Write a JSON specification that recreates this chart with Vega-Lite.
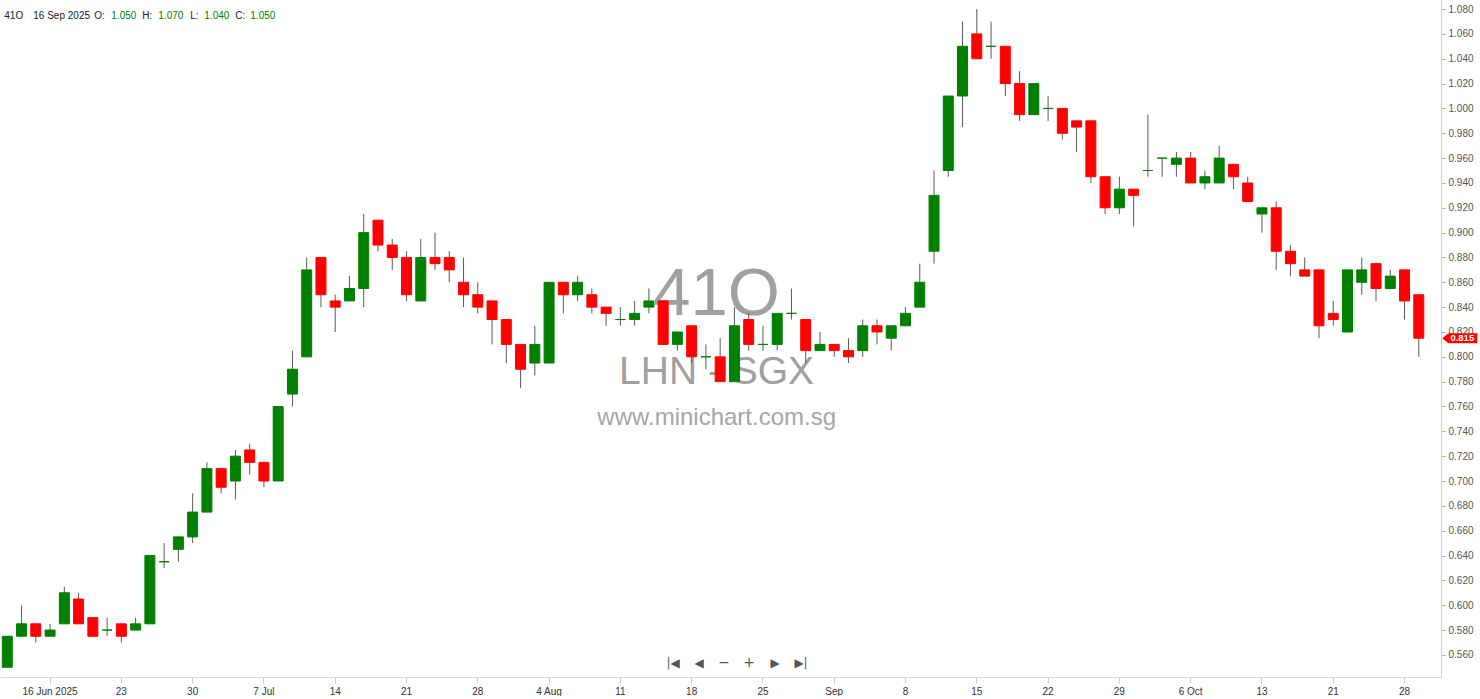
{
  "$schema": "https://vega.github.io/schema/vega-lite/v6.json",
  "width": 1441,
  "height": 677,
  "padding": 0,
  "autosize": {"type": "pad"},
  "background": "white",
  "config": {
    "view": {"stroke": null},
    "font": "Liberation Sans",
    "axis": {"labelOverlap": false},
    "axisY": {"labelOverlap": false, "labelSeparation": 0},
    "axisQuantitative": {"labelOverlap": false}
  },
  "datasets": {
    "ohlc": [
      {"d":"2025-06-11","o":0.550,"h":0.575,"l":0.550,"c":0.575},
      {"d":"2025-06-12","o":0.575,"h":0.600,"l":0.575,"c":0.585},
      {"d":"2025-06-13","o":0.585,"h":0.585,"l":0.570,"c":0.575},
      {"d":"2025-06-16","o":0.575,"h":0.585,"l":0.575,"c":0.580},
      {"d":"2025-06-17","o":0.585,"h":0.615,"l":0.585,"c":0.610},
      {"d":"2025-06-18","o":0.605,"h":0.610,"l":0.585,"c":0.585},
      {"d":"2025-06-19","o":0.590,"h":0.590,"l":0.575,"c":0.575},
      {"d":"2025-06-20","o":0.580,"h":0.590,"l":0.575,"c":0.580},
      {"d":"2025-06-23","o":0.585,"h":0.585,"l":0.570,"c":0.575},
      {"d":"2025-06-24","o":0.580,"h":0.590,"l":0.580,"c":0.585},
      {"d":"2025-06-25","o":0.585,"h":0.640,"l":0.585,"c":0.640},
      {"d":"2025-06-26","o":0.635,"h":0.650,"l":0.630,"c":0.635},
      {"d":"2025-06-27","o":0.645,"h":0.655,"l":0.635,"c":0.655},
      {"d":"2025-06-30","o":0.655,"h":0.690,"l":0.650,"c":0.675},
      {"d":"2025-07-01","o":0.675,"h":0.715,"l":0.675,"c":0.710},
      {"d":"2025-07-02","o":0.710,"h":0.710,"l":0.690,"c":0.695},
      {"d":"2025-07-03","o":0.700,"h":0.725,"l":0.685,"c":0.720},
      {"d":"2025-07-04","o":0.725,"h":0.730,"l":0.705,"c":0.715},
      {"d":"2025-07-07","o":0.715,"h":0.715,"l":0.695,"c":0.700},
      {"d":"2025-07-08","o":0.700,"h":0.760,"l":0.700,"c":0.760},
      {"d":"2025-07-09","o":0.770,"h":0.805,"l":0.760,"c":0.790},
      {"d":"2025-07-10","o":0.800,"h":0.880,"l":0.800,"c":0.870},
      {"d":"2025-07-11","o":0.880,"h":0.880,"l":0.840,"c":0.850},
      {"d":"2025-07-14","o":0.845,"h":0.850,"l":0.820,"c":0.840},
      {"d":"2025-07-15","o":0.845,"h":0.865,"l":0.845,"c":0.855},
      {"d":"2025-07-16","o":0.855,"h":0.915,"l":0.840,"c":0.900},
      {"d":"2025-07-17","o":0.910,"h":0.910,"l":0.885,"c":0.890},
      {"d":"2025-07-18","o":0.890,"h":0.895,"l":0.870,"c":0.880},
      {"d":"2025-07-21","o":0.880,"h":0.885,"l":0.845,"c":0.850},
      {"d":"2025-07-22","o":0.845,"h":0.895,"l":0.845,"c":0.880},
      {"d":"2025-07-23","o":0.880,"h":0.900,"l":0.870,"c":0.875},
      {"d":"2025-07-24","o":0.880,"h":0.885,"l":0.860,"c":0.870},
      {"d":"2025-07-25","o":0.860,"h":0.880,"l":0.840,"c":0.850},
      {"d":"2025-07-28","o":0.850,"h":0.860,"l":0.835,"c":0.840},
      {"d":"2025-07-29","o":0.845,"h":0.845,"l":0.810,"c":0.830},
      {"d":"2025-07-30","o":0.830,"h":0.830,"l":0.795,"c":0.810},
      {"d":"2025-07-31","o":0.810,"h":0.810,"l":0.775,"c":0.790},
      {"d":"2025-08-01","o":0.795,"h":0.825,"l":0.785,"c":0.810},
      {"d":"2025-08-04","o":0.795,"h":0.860,"l":0.795,"c":0.860},
      {"d":"2025-08-05","o":0.860,"h":0.860,"l":0.835,"c":0.850},
      {"d":"2025-08-06","o":0.850,"h":0.865,"l":0.845,"c":0.860},
      {"d":"2025-08-07","o":0.850,"h":0.855,"l":0.835,"c":0.840},
      {"d":"2025-08-08","o":0.840,"h":0.840,"l":0.825,"c":0.835},
      {"d":"2025-08-11","o":0.830,"h":0.840,"l":0.825,"c":0.830},
      {"d":"2025-08-12","o":0.830,"h":0.845,"l":0.825,"c":0.835},
      {"d":"2025-08-13","o":0.840,"h":0.855,"l":0.835,"c":0.845},
      {"d":"2025-08-14","o":0.845,"h":0.845,"l":0.810,"c":0.810},
      {"d":"2025-08-15","o":0.810,"h":0.820,"l":0.805,"c":0.820},
      {"d":"2025-08-18","o":0.825,"h":0.825,"l":0.795,"c":0.800},
      {"d":"2025-08-19","o":0.800,"h":0.810,"l":0.790,"c":0.800},
      {"d":"2025-08-20","o":0.800,"h":0.815,"l":0.780,"c":0.780},
      {"d":"2025-08-21","o":0.780,"h":0.840,"l":0.780,"c":0.825},
      {"d":"2025-08-22","o":0.830,"h":0.835,"l":0.805,"c":0.810},
      {"d":"2025-08-25","o":0.810,"h":0.825,"l":0.805,"c":0.810},
      {"d":"2025-08-26","o":0.810,"h":0.835,"l":0.805,"c":0.835},
      {"d":"2025-08-27","o":0.835,"h":0.855,"l":0.830,"c":0.835},
      {"d":"2025-08-28","o":0.830,"h":0.830,"l":0.795,"c":0.805},
      {"d":"2025-08-29","o":0.805,"h":0.820,"l":0.805,"c":0.810},
      {"d":"2025-09-01","o":0.810,"h":0.810,"l":0.800,"c":0.805},
      {"d":"2025-09-02","o":0.805,"h":0.815,"l":0.795,"c":0.800},
      {"d":"2025-09-03","o":0.805,"h":0.830,"l":0.800,"c":0.825},
      {"d":"2025-09-04","o":0.825,"h":0.830,"l":0.810,"c":0.820},
      {"d":"2025-09-05","o":0.815,"h":0.825,"l":0.805,"c":0.825},
      {"d":"2025-09-08","o":0.825,"h":0.840,"l":0.825,"c":0.835},
      {"d":"2025-09-09","o":0.840,"h":0.875,"l":0.840,"c":0.860},
      {"d":"2025-09-10","o":0.885,"h":0.950,"l":0.875,"c":0.930},
      {"d":"2025-09-11","o":0.950,"h":1.010,"l":0.945,"c":1.010},
      {"d":"2025-09-12","o":1.010,"h":1.070,"l":0.985,"c":1.050},
      {"d":"2025-09-15","o":1.060,"h":1.080,"l":1.040,"c":1.040},
      {"d":"2025-09-16","o":1.050,"h":1.070,"l":1.040,"c":1.050},
      {"d":"2025-09-17","o":1.050,"h":1.050,"l":1.010,"c":1.020},
      {"d":"2025-09-18","o":1.020,"h":1.030,"l":0.990,"c":0.995},
      {"d":"2025-09-19","o":0.995,"h":1.020,"l":0.995,"c":1.020},
      {"d":"2025-09-22","o":1.000,"h":1.010,"l":0.990,"c":1.000},
      {"d":"2025-09-23","o":1.000,"h":1.000,"l":0.975,"c":0.980},
      {"d":"2025-09-24","o":0.990,"h":0.990,"l":0.965,"c":0.985},
      {"d":"2025-09-25","o":0.990,"h":0.990,"l":0.940,"c":0.945},
      {"d":"2025-09-26","o":0.945,"h":0.945,"l":0.915,"c":0.920},
      {"d":"2025-09-29","o":0.920,"h":0.945,"l":0.915,"c":0.935},
      {"d":"2025-09-30","o":0.935,"h":0.935,"l":0.905,"c":0.930},
      {"d":"2025-10-01","o":0.950,"h":0.995,"l":0.945,"c":0.950},
      {"d":"2025-10-02","o":0.960,"h":0.960,"l":0.945,"c":0.960},
      {"d":"2025-10-03","o":0.955,"h":0.965,"l":0.945,"c":0.960},
      {"d":"2025-10-06","o":0.960,"h":0.965,"l":0.940,"c":0.940},
      {"d":"2025-10-07","o":0.940,"h":0.950,"l":0.935,"c":0.945},
      {"d":"2025-10-08","o":0.940,"h":0.970,"l":0.940,"c":0.960},
      {"d":"2025-10-09","o":0.955,"h":0.955,"l":0.935,"c":0.945},
      {"d":"2025-10-10","o":0.940,"h":0.945,"l":0.925,"c":0.925},
      {"d":"2025-10-13","o":0.915,"h":0.920,"l":0.900,"c":0.920},
      {"d":"2025-10-14","o":0.920,"h":0.925,"l":0.870,"c":0.885},
      {"d":"2025-10-15","o":0.885,"h":0.890,"l":0.865,"c":0.875},
      {"d":"2025-10-16","o":0.870,"h":0.880,"l":0.865,"c":0.865},
      {"d":"2025-10-17","o":0.870,"h":0.870,"l":0.815,"c":0.825},
      {"d":"2025-10-21","o":0.835,"h":0.845,"l":0.825,"c":0.830},
      {"d":"2025-10-22","o":0.820,"h":0.870,"l":0.820,"c":0.870},
      {"d":"2025-10-23","o":0.860,"h":0.880,"l":0.850,"c":0.870},
      {"d":"2025-10-24","o":0.875,"h":0.875,"l":0.845,"c":0.855},
      {"d":"2025-10-27","o":0.855,"h":0.870,"l":0.855,"c":0.865},
      {"d":"2025-10-28","o":0.870,"h":0.870,"l":0.830,"c":0.845},
      {"d":"2025-10-29","o":0.850,"h":0.850,"l":0.800,"c":0.815}
    ]
  },
  "data": {"name": "ohlc"},
  "encoding": {
    "x": {
      "field": "d",
      "type": "ordinal",
      "title": null,
      "scale": {"type": "band", "paddingInner": 0.3, "paddingOuter": 0.685, "align": 0.118, "round": false},
      "axis": {
        "values": ["2025-06-16","2025-06-23","2025-06-30","2025-07-07","2025-07-14","2025-07-21","2025-07-28","2025-08-04","2025-08-11","2025-08-18","2025-08-25","2025-09-01","2025-09-08","2025-09-15","2025-09-22","2025-09-29","2025-10-06","2025-10-13","2025-10-21","2025-10-28"],
        "labelExpr": "datum.value == '2025-06-16' ? '16 Jun 2025' : (utcdate(toDate(datum.value)) == 1 ? utcFormat(toDate(datum.value), '%b') : (utcdate(toDate(datum.value)) <= 7 ? utcFormat(toDate(datum.value), '%-d %b') : utcFormat(toDate(datum.value), '%-d')))",
        "labelAngle": 0,
        "labelOverlap": false,
        "labelFlush": false,
        "labelColor": "#333333",
        "labelFontSize": 10,
        "labelFont": "Liberation Sans",
        "labelPadding": 3,
        "tickSize": 6,
        "tickColor": "#c8c8c8",
        "domainColor": "#d8d8d8",
        "grid": false
      }
    },
    "y": {
      "field": "l", "type": "quantitative", "title": null,
      "scale": {"domain": [0.5422, 1.0873], "nice": false, "zero": false},
      "axis": {
        "orient": "right",
        "values": [0.56,0.58,0.60,0.62,0.64,0.66,0.68,0.70,0.72,0.74,0.76,0.78,0.80,0.82,0.84,0.86,0.88,0.90,0.92,0.94,0.96,0.98,1.00,1.02,1.04,1.06,1.08],
        "format": ".3f",
        "labelOverlap": false,
        "labelFlush": false,
        "labelColor": "#555555",
        "labelFontSize": 10,
        "labelFont": "Liberation Sans",
        "labelPadding": 3,
        "tickSize": 4,
        "tickColor": "#b0b0b0",
        "domainColor": "#d0d0d0",
        "grid": false
      }
    }
  },
  "layer": [
    {
      "transform": [{"filter": "datum.d == '2025-08-20'"}],
      "layer": [
        {
          "mark": {"type": "text", "align": "center", "baseline": "alphabetic", "dx": -3.6, "fontSize": 67, "color": "#a0a0a0", "font": "Liberation Sans", "text": "41O"},
          "encoding": {"x": {"datum": "2025-08-20", "type": "ordinal"}, "y": {"datum": 0.8336, "type": "quantitative"}}
        },
        {
          "mark": {"type": "text", "align": "center", "baseline": "alphabetic", "dx": -3.6, "fontSize": 39, "color": "#a0a0a0", "font": "Liberation Sans", "text": "LHN - SGX"},
          "encoding": {"x": {"datum": "2025-08-20", "type": "ordinal"}, "y": {"datum": 0.7781, "type": "quantitative"}}
        },
        {
          "mark": {"type": "text", "align": "center", "baseline": "alphabetic", "dx": -3.5, "fontSize": 24, "color": "#a6a6a6", "font": "Liberation Sans", "text": "www.minichart.com.sg"},
          "encoding": {"x": {"datum": "2025-08-20", "type": "ordinal"}, "y": {"datum": 0.7451, "type": "quantitative"}}
        }
      ]
    },
    {
      "mark": {"type": "rule", "color": "#5a5a5a", "strokeWidth": 1},
      "encoding": {
        "y2": {"field": "h"}
      }
    },
    {
      "mark": {"type": "bar", "strokeWidth": 1},
      "encoding": {
        "y": {"field": "o", "type": "quantitative", "title": null},
        "y2": {"field": "c"},
        "color": {"condition": {"test": "datum.c >= datum.o", "value": "#008000"}, "value": "#ff0000"},
        "stroke": {"condition": {"test": "datum.c >= datum.o", "value": "#008000"}, "value": "#ff0000"}
      }
    },
    {
      "transform": [{"filter": "datum.d == '2025-09-16'"}],
      "layer": [
        {"mark": {"type": "text", "align": "left", "baseline": "alphabetic", "dx": -3, "fontSize": 10, "color": "#222222", "text": "41O"},
         "encoding": {"x": {"datum": "2025-06-11", "type": "ordinal"}, "y": {"datum": 1.0717, "type": "quantitative"}}},
        {"mark": {"type": "text", "align": "left", "baseline": "alphabetic", "dx": 26, "fontSize": 10, "color": "#222222", "text": "16 Sep 2025"},
         "encoding": {"x": {"datum": "2025-06-11", "type": "ordinal"}, "y": {"datum": 1.0717, "type": "quantitative"}}},
        {"mark": {"type": "text", "align": "left", "baseline": "alphabetic", "dx": 87, "fontSize": 10, "color": "#222222", "text": "O:"},
         "encoding": {"x": {"datum": "2025-06-11", "type": "ordinal"}, "y": {"datum": 1.0717, "type": "quantitative"}}},
        {"mark": {"type": "text", "align": "left", "baseline": "alphabetic", "dx": 104, "fontSize": 10, "color": "#008000"},
         "encoding": {"x": {"datum": "2025-06-11", "type": "ordinal"}, "y": {"datum": 1.0717, "type": "quantitative"}, "text": {"field": "o", "format": ".3f"}}},
        {"mark": {"type": "text", "align": "left", "baseline": "alphabetic", "dx": 135, "fontSize": 10, "color": "#222222", "text": "H:"},
         "encoding": {"x": {"datum": "2025-06-11", "type": "ordinal"}, "y": {"datum": 1.0717, "type": "quantitative"}}},
        {"mark": {"type": "text", "align": "left", "baseline": "alphabetic", "dx": 151, "fontSize": 10, "color": "#008000"},
         "encoding": {"x": {"datum": "2025-06-11", "type": "ordinal"}, "y": {"datum": 1.0717, "type": "quantitative"}, "text": {"field": "h", "format": ".3f"}}},
        {"mark": {"type": "text", "align": "left", "baseline": "alphabetic", "dx": 183, "fontSize": 10, "color": "#222222", "text": "L:"},
         "encoding": {"x": {"datum": "2025-06-11", "type": "ordinal"}, "y": {"datum": 1.0717, "type": "quantitative"}}},
        {"mark": {"type": "text", "align": "left", "baseline": "alphabetic", "dx": 197, "fontSize": 10, "color": "#008000"},
         "encoding": {"x": {"datum": "2025-06-11", "type": "ordinal"}, "y": {"datum": 1.0717, "type": "quantitative"}, "text": {"field": "l", "format": ".3f"}}},
        {"mark": {"type": "text", "align": "left", "baseline": "alphabetic", "dx": 228, "fontSize": 10, "color": "#222222", "text": "C:"},
         "encoding": {"x": {"datum": "2025-06-11", "type": "ordinal"}, "y": {"datum": 1.0717, "type": "quantitative"}}},
        {"mark": {"type": "text", "align": "left", "baseline": "alphabetic", "dx": 243, "fontSize": 10, "color": "#008000"},
         "encoding": {"x": {"datum": "2025-06-11", "type": "ordinal"}, "y": {"datum": 1.0717, "type": "quantitative"}, "text": {"field": "c", "format": ".3f"}}}
      ]
    },
    {
      "transform": [{"filter": "datum.d == '2025-08-21'"}],
      "layer": [
        {"mark": {"type": "text", "align": "center", "baseline": "middle", "dx": -61.4, "fontSize": 12, "font": "DejaVu Sans", "color": "#555555", "text": "|◀"},
         "encoding": {"x": {"datum": "2025-08-21", "type": "ordinal"}, "y": {"datum": 0.5534, "type": "quantitative"}}},
        {"mark": {"type": "text", "align": "center", "baseline": "middle", "dx": -35.4, "fontSize": 12, "font": "DejaVu Sans", "color": "#555555", "text": "◀"},
         "encoding": {"x": {"datum": "2025-08-21", "type": "ordinal"}, "y": {"datum": 0.5534, "type": "quantitative"}}},
        {"mark": {"type": "text", "align": "center", "baseline": "middle", "dx": -10.4, "fontSize": 14, "font": "DejaVu Sans", "color": "#555555", "text": "−"},
         "encoding": {"x": {"datum": "2025-08-21", "type": "ordinal"}, "y": {"datum": 0.5534, "type": "quantitative"}}},
        {"mark": {"type": "text", "align": "center", "baseline": "middle", "dx": 14.6, "fontSize": 14, "font": "DejaVu Sans", "color": "#555555", "text": "+"},
         "encoding": {"x": {"datum": "2025-08-21", "type": "ordinal"}, "y": {"datum": 0.5534, "type": "quantitative"}}},
        {"mark": {"type": "text", "align": "center", "baseline": "middle", "dx": 40.6, "fontSize": 12, "font": "DejaVu Sans", "color": "#555555", "text": "▶"},
         "encoding": {"x": {"datum": "2025-08-21", "type": "ordinal"}, "y": {"datum": 0.5534, "type": "quantitative"}}},
        {"mark": {"type": "text", "align": "center", "baseline": "middle", "dx": 66.6, "fontSize": 12, "font": "DejaVu Sans", "color": "#555555", "text": "▶|"},
         "encoding": {"x": {"datum": "2025-08-21", "type": "ordinal"}, "y": {"datum": 0.5534, "type": "quantitative"}}}
      ]
    },
    {
      "transform": [{"filter": "datum.d == '2025-10-29'"}],
      "layer": [
        {"mark": {"type": "point", "filled": true, "opacity": 1, "color": "#ff0000", "size": 400, "xOffset": 23.5, "shape": "M 0 0 L 0.6 -0.5 L 3.5 -0.5 L 3.5 0.5 L 0.6 0.5 Z"},
         "encoding": {"y": {"field": "c", "type": "quantitative", "title": null}}},
        {"mark": {"type": "text", "align": "center", "baseline": "middle", "dx": 43.5, "fontSize": 9.5, "fontWeight": "bold", "color": "#ffffff"},
         "encoding": {"y": {"field": "c", "type": "quantitative", "title": null}, "text": {"field": "c", "format": ".3f"}}}
      ]
    }
  ]
}
